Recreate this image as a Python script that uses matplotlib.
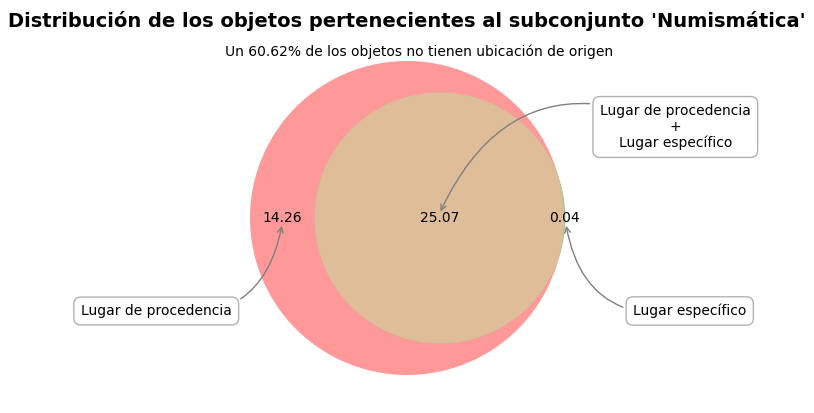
import numpy as np
import matplotlib
matplotlib.use("Agg")
import matplotlib.pyplot as plt
from matplotlib.patches import Circle

# Datos: porcentajes de cada región del diagrama de Venn
subconjuntos = ["Lugar de procedencia", "Lugar específico", "Lugar de procedencia\n+\nLugar específico"]
solo_procedencia = 14.26
solo_especifico = 0.04
ambos = 25.07
sin_ubicacion = 60.62

# Radios proporcionales al área de cada conjunto
rA = np.sqrt((solo_procedencia + ambos) / np.pi)
rB = np.sqrt((solo_especifico + ambos) / np.pi)


def area_lente(d, r1, r2):
    if d >= r1 + r2:
        return 0.0
    if d <= abs(r1 - r2):
        return np.pi * min(r1, r2) ** 2
    a1 = r1**2 * np.arccos((d**2 + r1**2 - r2**2) / (2 * d * r1))
    a2 = r2**2 * np.arccos((d**2 + r2**2 - r1**2) / (2 * d * r2))
    a3 = 0.5 * np.sqrt((-d + r1 + r2) * (d + r1 - r2) * (d - r1 + r2) * (d + r1 + r2))
    return a1 + a2 - a3


# Distancia entre centros por bisección
lo, hi = abs(rA - rB), rA + rB
for _ in range(100):
    mid = (lo + hi) / 2
    if area_lente(mid, rA, rB) > ambos:
        lo = mid
    else:
        hi = mid
d = (lo + hi) / 2

W, H = 814, 413
fig = plt.figure(figsize=(W / 100, H / 100), dpi=100)
ax = fig.add_axes([0, 0, 1, 1])

# Escala: píxeles por unidad (círculo grande ~157 px de radio)
s = 157 / rA
cx_px, cy_px = 407, 413 - 218
ax.set_xlim(-cx_px / s, (W - cx_px) / s)
ax.set_ylim(-cy_px / s, (H - cy_px) / s)
ax.set_aspect("equal")
ax.axis("off")

cA = (0.0, 0.0)
cB = (d, 0.0)
circA = Circle(cA, rA, facecolor="#ff9999", edgecolor="none")
circB = Circle(cB, rB, facecolor="#99cc99", edgecolor="none")
ax.add_patch(circA)
ax.add_patch(circB)
inter = Circle(cB, rB, facecolor="#dfbd99", edgecolor="none")
ax.add_patch(inter)
clip = Circle(cA, rA, transform=ax.transData)
inter.set_clip_path(clip)

# Posiciones de las etiquetas (centro de cada región sobre el eje)
x10 = ((-rA) + (d - rB)) / 2
x11 = ((d - rB) + rA) / 2
x01 = (rA + d + rB) / 2
ax.text(x10, 0, f"{solo_procedencia:.2f}", ha="center", va="center", fontsize=10)
ax.text(x11, 0, f"{ambos:.2f}", ha="center", va="center", fontsize=10)
ax.text(x01, 0, f"{solo_especifico:.2f}", ha="center", va="center", fontsize=10)

caja = dict(boxstyle="round,pad=0.5", fc="white", ec="gray", alpha=0.6)
off = 5 / s
ax.annotate(subconjuntos[0], xy=(x10, -off), xytext=(-126, -88), textcoords="offset pixels",
            ha="center", va="center", fontsize=10, bbox=caja,
            arrowprops=dict(arrowstyle="->", connectionstyle="arc3,rad=0.5", color="gray"))
ax.annotate(subconjuntos[1], xy=(x01 + 1 / s, -off), xytext=(124, -88), textcoords="offset pixels",
            ha="center", va="center", fontsize=10, bbox=caja,
            arrowprops=dict(arrowstyle="->", connectionstyle="arc3,rad=-0.5", color="gray"))
ax.annotate(subconjuntos[2], xy=(x11, 4 / s), xytext=(236, 87), textcoords="offset pixels",
            ha="center", va="center", fontsize=10, bbox=caja,
            arrowprops=dict(arrowstyle="->", connectionstyle="arc3,rad=0.5", color="gray"))

fig.suptitle("Distribución de los objetos pertenecientes al subconjunto 'Numismática'",
             fontsize=14, fontweight="bold", y=1 - 21 / H, va="center")
fig.text(419 / W, 1 - 52 / H, f"Un {sin_ubicacion:.2f}% de los objetos no tienen ubicación de origen",
         ha="center", va="center", fontsize=10)

fig.savefig("out.png", dpi=100)
